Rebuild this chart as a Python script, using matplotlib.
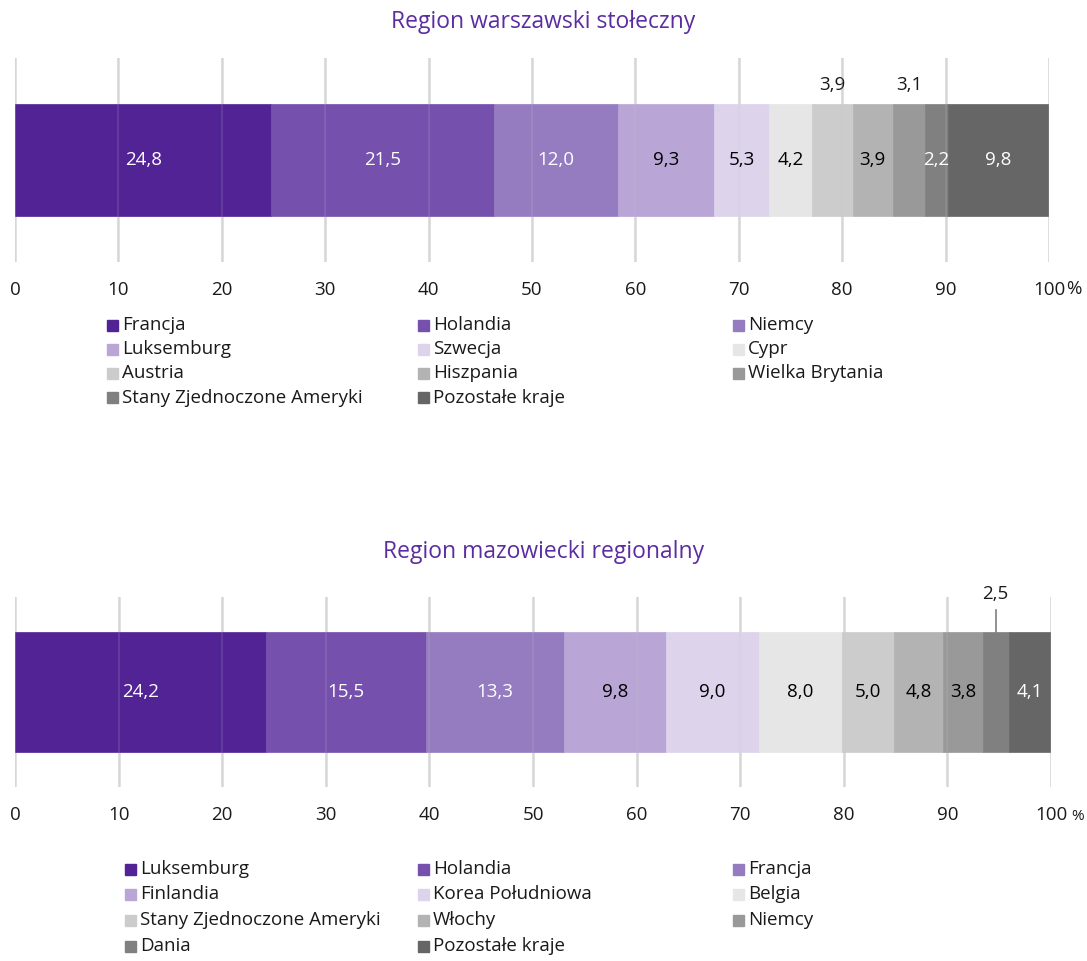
import matplotlib.pyplot as plt
from matplotlib.patches import Rectangle

plt.rcParams['font.family'] = ['Open Sans', 'DejaVu Sans']

# Data
top_title = "Region warszawski stołeczny"
top_countries = ["Francja", "Holandia", "Niemcy", "Luksemburg", "Szwecja", "Cypr",
                 "Austria", "Hiszpania", "Wielka Brytania", "Stany Zjednoczone Ameryki",
                 "Pozostałe kraje"]
top_values = [24.8, 21.5, 12.0, 9.3, 5.3, 4.2, 3.9, 3.9, 3.1, 2.2, 9.8]

bottom_title = "Region mazowiecki regionalny"
bottom_countries = ["Luksemburg", "Holandia", "Francja", "Finlandia", "Korea Południowa",
                    "Belgia", "Stany Zjednoczone Ameryki", "Włochy", "Niemcy", "Dania",
                    "Pozostałe kraje"]
bottom_values = [24.2, 15.5, 13.3, 9.8, 9.0, 8.0, 5.0, 4.8, 3.8, 2.5, 4.1]

ticks = [0, 10, 20, 30, 40, 50, 60, 70, 80, 90, 100]

colors = ["#512395", "#7550ad", "#957cc0", "#b9a6d6", "#ddd3ea", "#e6e6e6",
          "#cccccc", "#b3b3b3", "#999999", "#808080", "#666666"]
text_colors_top = ["white", "white", "white", "black", "black", "black",
                   "black", "black", "black", "white", "white"]
text_colors_bottom = ["white", "white", "white", "black", "black", "black",
                      "black", "black", "black", "black", "white"]
# which labels are drawn above the bar
above_top = [6, 8]
above_bottom = [9]

title_color = "#5b2da0"
grid_color = "#d9d9d9"
fs = 13.5

fig = plt.figure(figsize=(10.87, 9.61), dpi=100)


def draw_bar(ax, values, text_colors, above, bar_h, above_y, leader=False):
    left = 0
    for i, v in enumerate(values):
        ax.barh(0, v, left=left, height=bar_h, color=colors[i], edgecolor=colors[i],
                linewidth=0.5, zorder=2)
        cx = left + v / 2
        lab = f"{v:.1f}".replace(".", ",")
        if i in above:
            ax.text(cx, above_y, lab, ha="center", va="center",
                    fontsize=fs, color="#1a1a1a", clip_on=False)
            if leader:
                ax.plot([cx, cx], [bar_h / 2, 0.43], color="#7f7f7f", lw=1.2, zorder=3)
        else:
            ax.text(cx, 0, lab, ha="center", va="center", fontsize=fs,
                    color=text_colors[i], zorder=4)
        left += v
    ax.set_xlim(0, 100)
    ax.set_ylim(-0.5, 0.5)
    ax.set_xticks(ticks)
    ax.set_yticks([])
    for t in ticks:
        ax.axvline(t, color=grid_color, lw=1.8, zorder=1)
        ax.axvline(t, color="#c8c8c8", lw=1.5, alpha=0.15, zorder=3)
    for s in ax.spines.values():
        s.set_visible(False)
    ax.tick_params(axis="x", length=0, pad=14, labelsize=fs, labelcolor="#1a1a1a")


def draw_legend(names, x_cols, y_rows):
    for i, name in enumerate(names):
        r, c = divmod(i, 3)
        x = x_cols[c] / 1087
        y = 1 - y_rows[r] / 961
        fig.patches.append(Rectangle((x, y - 5.5 / 961), 11 / 1087, 11 / 961,
                                     transform=fig.transFigure, color=colors[i]))
        fig.text(x + 15 / 1087, y, name, ha="left", va="center", fontsize=fs,
                 color="#1a1a1a")


# top chart
ax1 = fig.add_axes([15 / 1087, 1 - 262 / 961, 1034 / 1087, 204 / 961])
draw_bar(ax1, top_values, text_colors_top, above_top, 0.55, 0.37)
ax1.set_xticklabels([str(t) for t in ticks])
fig.text(1066 / 1087, 1 - 289 / 961, "%", ha="left", va="center", fontsize=fs,
         color="#1a1a1a")
fig.text(0.5, 1 - 22 / 961, top_title, ha="center", va="center", fontsize=16.5,
         color=title_color)
draw_legend(top_countries, [107, 418, 733], [325, 349, 373, 398])

# bottom chart
ax2 = fig.add_axes([15 / 1087, 1 - 787 / 961, 1036 / 1087, 190 / 961])
draw_bar(ax2, bottom_values, text_colors_bottom, above_bottom, 0.63, 0.515, leader=True)
ax2.set_xticklabels([str(t) for t in ticks])
fig.text(1071 / 1087, 1 - 816 / 961, "%", ha="left", va="center", fontsize=11,
         color="#1a1a1a")
fig.text(0.5, 1 - 552 / 961, bottom_title, ha="center", va="center", fontsize=16.5,
         color=title_color)
draw_legend(bottom_countries, [125, 418, 733], [869, 894, 920, 946])

plt.savefig("out.png", dpi=100)
